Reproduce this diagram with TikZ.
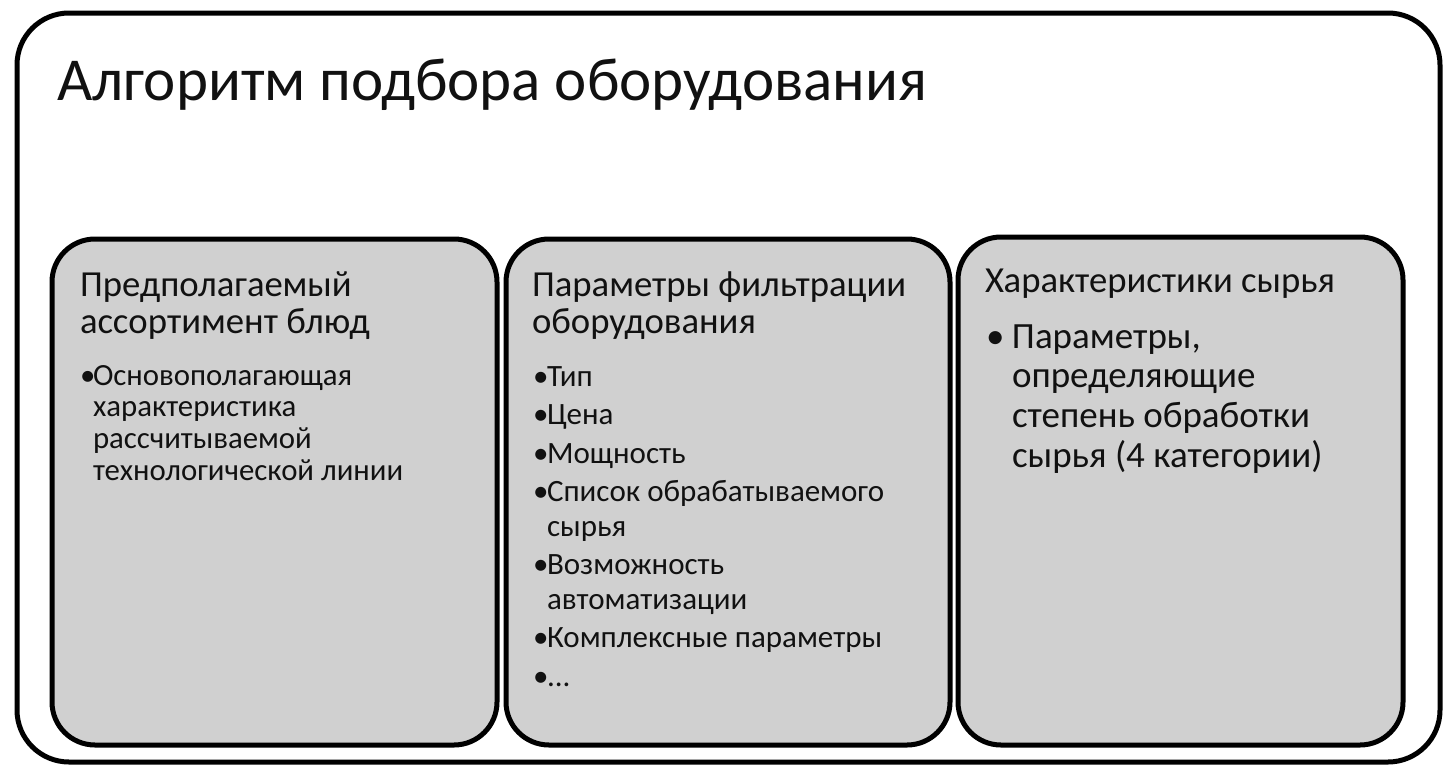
\documentclass[tikz,border=0pt]{standalone}
\usepackage{fontspec}
\setmainfont{Carlito}
\definecolor{boxgray}{RGB}{208,208,208}
\definecolor{inkc}{RGB}{17,17,17}
\begin{document}
\begin{tikzpicture}[x=1pt,y=-1pt,
  frame/.style={draw=black, line width=5pt, rounded corners=52pt, fill=white},
  panel/.style={draw=black, line width=5pt, rounded corners=43pt, fill=boxgray},
  txt/.style={inner sep=0pt, outer sep=0pt, anchor=base west, text=inkc},
]
\useasboundingbox[fill=white] (0,0) rectangle (1453,779);
\draw[frame] (17,13) rectangle (1440,762);
\node[txt, font=\fontsize{61}{72}\selectfont] (title) at (57,100) {Алгоритм подбора оборудования};

\draw[panel] (52,239) rectangle (497,745);
\draw[panel] (506,239) rectangle (950,745);
\draw[panel] (958,237) rectangle (1403,745);

% box 1
\node[txt, font=\fontsize{36.7}{37}\selectfont] (h1) at (80,296) {%
  \begin{tabular}[t]{@{}l@{}}Предполагаемый\\ ассортимент блюд\end{tabular}};
\node[txt, font=\fontsize{30.8}{31.7}\selectfont] (b1) at (80,385) {%
  \begin{tabular}[t]{@{}l@{}}\makebox[13pt][l]{•}Основополагающая\\
  \hspace{13pt}характеристика\\
  \hspace{13pt}рассчитываемой\\
  \hspace{13pt}технологической линии\end{tabular}};

% box 2
\node[txt, font=\fontsize{36.7}{37}\selectfont] (h2) at (532,296) {%
  \begin{tabular}[t]{@{}l@{}}Параметры фильтрации\\ оборудования\end{tabular}};
\node[txt, font=\fontsize{31}{34.5}\selectfont] (b2) at (533,386) {%
  \begin{tabular}[t]{@{}l@{}}\makebox[14pt][l]{•}Тип\\[4pt]
  \makebox[14pt][l]{•}Цена\\[4pt]
  \makebox[14pt][l]{•}Мощность\\[4pt]
  \makebox[14pt][l]{•}Список обрабатываемого\\
  \hspace{14pt}сырья\\[4pt]
  \makebox[14pt][l]{•}Возможность\\
  \hspace{14pt}автоматизации\\[4pt]
  \makebox[14pt][l]{•}Комплексные параметры\\[4pt]
  \makebox[14pt][l]{•}...\end{tabular}};

% box 3
\node[txt, font=\fontsize{36.7}{38}\selectfont] (h3) at (985,292) {Характеристики сырья};
\node[txt, font=\fontsize{37}{39.7}\selectfont] (b3) at (986,348) {%
  \begin{tabular}[t]{@{}l@{}}\makebox[26pt][l]{•}Параметры,\\
  \hspace{26pt}определяющие\\
  \hspace{26pt}степень обработки\\
  \hspace{26pt}сырья (4 категории)\end{tabular}};
\end{tikzpicture}
\end{document}
